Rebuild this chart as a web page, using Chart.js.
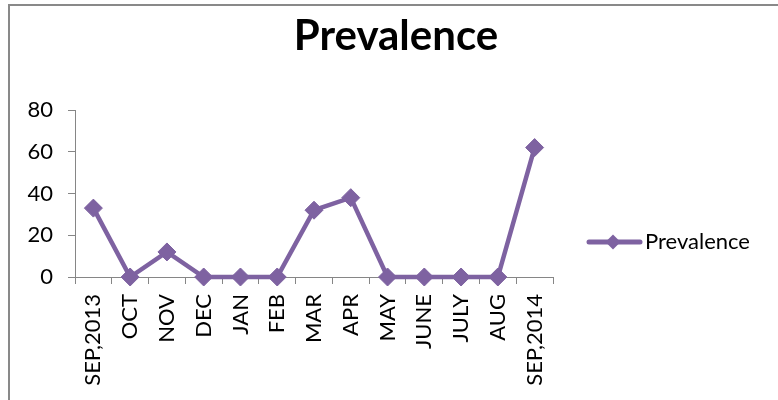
<!DOCTYPE html>
<html>
<head>
<meta charset="utf-8">
<script src="https://cdn.jsdelivr.net/npm/chart.js@4/dist/chart.umd.min.js"></script>
<style>
  html, body { margin: 0; padding: 0; background: #ffffff; }
  #wrap { width: 778px; height: 400px; position: relative; }
</style>
</head>
<body>
<div id="wrap"><canvas id="chart" width="778" height="400"></canvas></div>
<script>
// Monthly prevalence, Sep 2013 – Sep 2014
const months = ['SEP,2013', 'OCT', 'NOV', 'DEC', 'JAN', 'FEB', 'MAR', 'APR', 'MAY', 'JUNE', 'JULY', 'AUG', 'SEP,2014'];
const prevalence = [33, 0, 12, 0, 0, 0, 32, 38, 0, 0, 0, 0, 62];
const yTicks = [0, 20, 40, 60, 80];

const seriesName = 'Prevalence';
const chartTitle = 'Prevalence';
const purple = '#7E62A1';
const axisGray = '#868686';
const fontFamily = 'Lato, "Open Sans", sans-serif';

// Outer frame, title and the line-with-marker legend on the right
const decorations = {
  id: 'decorations',
  beforeDraw(chart) {
    const ctx = chart.ctx;
    ctx.save();
    ctx.fillStyle = '#ffffff';
    ctx.fillRect(0, 0, chart.width, chart.height);
    ctx.strokeStyle = '#898989';
    ctx.lineWidth = 2;
    ctx.strokeRect(9, 5, 900, 600);
    ctx.restore();
  },
  afterDraw(chart) {
    const ctx = chart.ctx;
    ctx.save();
    // title
    ctx.fillStyle = '#000000';
    ctx.font = 'bold 42px ' + fontFamily;
    ctx.textAlign = 'center';
    ctx.textBaseline = 'alphabetic';
    ctx.fillText(chartTitle, 396, 50);

    // legend
    const y = 242;
    ctx.strokeStyle = purple;
    ctx.lineWidth = 5;
    ctx.lineCap = 'round';
    ctx.beginPath();
    ctx.moveTo(589, y);
    ctx.lineTo(640, y);
    ctx.stroke();
    ctx.fillStyle = purple;
    ctx.beginPath();
    const r = 7.5;
    ctx.moveTo(613, y - r);
    ctx.lineTo(613 + r, y);
    ctx.lineTo(613, y + r);
    ctx.lineTo(613 - r, y);
    ctx.closePath();
    ctx.fill();
    ctx.fillStyle = '#000000';
    ctx.font = '22px ' + fontFamily;
    ctx.textAlign = 'left';
    ctx.textBaseline = 'middle';
    ctx.fillText(seriesName, 645, y);
    ctx.restore();
  }
};

new Chart(document.getElementById('chart'), {
  type: 'line',
  data: {
    labels: months,
    datasets: [{
      label: seriesName,
      data: prevalence,
      borderColor: purple,
      backgroundColor: purple,
      borderWidth: 4.5,
      tension: 0,
      pointStyle: 'rectRot',
      pointRadius: 9,
      pointBorderWidth: 1,
      pointBackgroundColor: purple,
      pointBorderColor: purple,
      clip: false
    }]
  },
  options: {
    responsive: false,
    animation: false,
    devicePixelRatio: 1,
    layout: { padding: { left: 0, top: 110, right: 225, bottom: 0 } },
    plugins: {
      legend: { display: false },
      title: { display: false },
      tooltip: { enabled: false }
    },
    scales: {
      x: {
        type: 'category',
        offset: true,
        afterFit(scale) { scale.height = 123; },
        grid: {
          offset: true,
          drawOnChartArea: false,
          drawTicks: true,
          tickLength: 7,
          color: axisGray,
          lineWidth: 1
        },
        border: { display: true, color: axisGray, width: 1 },
        ticks: {
          minRotation: 90,
          maxRotation: 90,
          autoSkip: false,
          padding: 10,
          color: '#000000',
          font: { family: fontFamily, size: 22 }
        }
      },
      y: {
        min: 0,
        max: 80,
        afterFit(scale) { scale.width = 75; },
        afterBuildTicks(scale) { scale.ticks = yTicks.map(v => ({ value: v })); },
        grid: {
          drawOnChartArea: false,
          drawTicks: true,
          tickLength: 7,
          color: axisGray,
          lineWidth: 1
        },
        border: { display: true, color: axisGray, width: 1 },
        ticks: {
          padding: 15,
          color: '#000000',
          font: { family: fontFamily, size: 22 }
        }
      }
    }
  },
  plugins: [decorations]
});
</script>
</body>
</html>
